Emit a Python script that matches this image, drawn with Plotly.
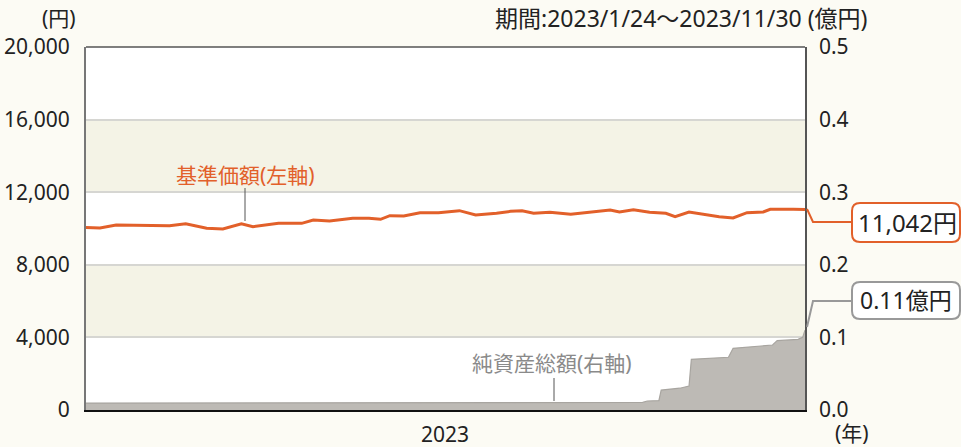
import plotly.graph_objects as go

# ---- data ----
nav_dates = ["2023-01-24","2023-01-30","2023-02-06","2023-02-19","2023-03-01","2023-03-08",
             "2023-03-17","2023-03-24","2023-04-01","2023-04-06","2023-04-17","2023-04-27",
             "2023-05-02","2023-05-09","2023-05-19","2023-05-26","2023-05-31","2023-06-04",
             "2023-06-10","2023-06-17","2023-06-25","2023-07-04","2023-07-11","2023-07-20",
             "2023-07-26","2023-07-31","2023-08-05","2023-08-12","2023-08-21","2023-09-07",
             "2023-09-11","2023-09-17","2023-09-24","2023-10-01","2023-10-05","2023-10-11",
             "2023-10-17","2023-10-24","2023-10-30","2023-11-05","2023-11-12","2023-11-15",
             "2023-11-25","2023-11-30"]
nav_values = [10050,10030,10190,10190,10150,10265,10011,9973,10265,10100,10285,10285,
              10469,10414,10560,10560,10506,10707,10690,10873,10870,10983,10745,10836,
              10946,10980,10836,10890,10781,11020,10910,11038,10891,10836,10652,10910,
              10781,10652,10580,10873,10910,11057,11057,11042]

aum_dates = ["2023-01-24","2023-05-01","2023-09-21","2023-09-23","2023-09-28","2023-09-29",
             "2023-10-07","2023-10-11","2023-10-12","2023-10-28","2023-10-30","2023-11-16",
             "2023-11-18","2023-11-27","2023-11-29","2023-11-30"]
aum_values = [0.0095,0.0098,0.0105,0.0124,0.013,0.0275,0.030,0.033,0.0698,0.0726,0.085,
              0.0895,0.0955,0.0974,0.100,0.11]

left_ticks = [0, 4000, 8000, 12000, 16000, 20000]
right_ticks = [0.0, 0.1, 0.2, 0.3, 0.4, 0.5]

FONT = "Noto Sans, Noto Sans CJK JP"
ORANGE = "#E2602A"
GRAY_TXT = "#8a8a8a"

W, H = 961, 447
L, R, T, B = 86, 805, 47, 410

def px(x):
    return (x - L) / (R - L)

def py(y):
    return (B - y) / (B - T)

def rrect(x0, y0, x1, y1, r=8):
    X0, X1 = px(x0), px(x1)
    Y0, Y1 = py(y0), py(y1)
    rx = r / (R - L)
    ry = r / (B - T)
    return (f"M {X0+rx},{Y0} L {X1-rx},{Y0} Q {X1},{Y0} {X1},{Y0-ry} "
            f"L {X1},{Y1+ry} Q {X1},{Y1} {X1-rx},{Y1} L {X0+rx},{Y1} "
            f"Q {X0},{Y1} {X0},{Y1+ry} L {X0},{Y0-ry} Q {X0},{Y0} {X0+rx},{Y0} Z")

fig = go.Figure()

fig.add_trace(go.Scatter(x=aum_dates, y=aum_values, yaxis="y2", mode="lines",
                         fill="tozeroy", fillcolor="#bdbab5",
                         line=dict(color="#a8a5a0", width=1.2), hoverinfo="skip"))
fig.add_trace(go.Scatter(x=nav_dates, y=nav_values, mode="lines",
                         line=dict(color=ORANGE, width=3), hoverinfo="skip"))

shapes = []
for y0, y1 in [(4000, 8000), (12000, 16000)]:
    shapes.append(dict(type="rect", xref="paper", yref="y", x0=0, x1=1, y0=y0, y1=y1,
                       fillcolor="#f4f3e6", line=dict(width=0), layer="below"))
shapes.append(dict(type="line", xref="paper", yref="paper", x0=0, x1=1, y0=1, y1=1,
                   line=dict(color="#555", width=1.5)))
shapes.append(dict(type="line", xref="paper", yref="paper", x0=px(245), x1=px(245),
                   y0=py(188), y1=py(221), line=dict(color="#555", width=1)))
shapes.append(dict(type="line", xref="paper", yref="paper", x0=px(554), x1=px(554),
                   y0=py(378), y1=py(401), line=dict(color="#555", width=1)))
shapes.append(dict(type="path", xref="paper", yref="paper",
                   path=f"M {px(807)},{py(209)} L {px(813)},{py(222)} L {px(852)},{py(222)}",
                   line=dict(color=ORANGE, width=2)))
shapes.append(dict(type="path", xref="paper", yref="paper",
                   path=f"M {px(807)},{py(327)} L {px(813)},{py(301)} L {px(852)},{py(301)}",
                   line=dict(color="#999", width=2)))
shapes.append(dict(type="path", xref="paper", yref="paper", path=rrect(852, 203, 960, 242),
                   fillcolor="white", line=dict(color=ORANGE, width=2)))
shapes.append(dict(type="path", xref="paper", yref="paper", path=rrect(852, 282, 960, 319),
                   fillcolor="white", line=dict(color="#999", width=2)))

ann = []
def add_text(x, y, text, size, color, xanchor="center"):
    ann.append(dict(x=px(x), y=py(y), xref="paper", yref="paper", text=text, showarrow=False,
                    xanchor=xanchor, yanchor="middle", font=dict(family=FONT, size=size, color=color)))

add_text(78, 18, "(円)", 21, "#222", "right")
add_text(870, 18, "期間:2023/1/24～2023/11/30 (億円)", 23, "#222", "right")
add_text(245, 175, "基準価額(左軸)", 21, ORANGE)
add_text(552, 363, "純資産総額(右軸)", 21, GRAY_TXT)
add_text(907, 222, "11,042円", 24, "#222")
add_text(906, 300, "0.11億円", 23, "#222")
add_text(445, 434, "2023", 21, "#222")
add_text(852, 433, "(年)", 21, "#222")

fig.update_layout(
    width=W, height=H,
    margin=dict(l=L, r=W - R, t=T, b=H - B, autoexpand=False),
    paper_bgcolor="#fcfbf4", plot_bgcolor="white",
    showlegend=False,
    font=dict(family=FONT, size=21, color="#222"),
    xaxis=dict(type="date", range=["2023-01-24", "2023-11-30"], showticklabels=False,
               ticks="", showgrid=False, zeroline=False, showline=True, automargin=False,
               linecolor="#111", linewidth=2),
    yaxis=dict(range=[0, 20000], tickvals=left_ticks, tickformat=",d", ticks="",
               showgrid=True, gridcolor="#d6d6d2", gridwidth=1.5, zeroline=False,
               showline=True, linecolor="#777", linewidth=2, ticklabelstandoff=10,
               automargin=False, tickfont=dict(size=21)),
    yaxis2=dict(range=[0, 0.5], tickvals=right_ticks, tickformat=".1f", ticks="",
                overlaying="y", side="right", showgrid=False, zeroline=False,
                showline=True, linecolor="#555", linewidth=1.5, ticklabelstandoff=8,
                automargin=False, tickfont=dict(size=21)),
    shapes=shapes, annotations=ann,
)

fig.write_html("out.html", config={"displayModeBar": False},
               post_script="document.body.style.margin='0px';")
